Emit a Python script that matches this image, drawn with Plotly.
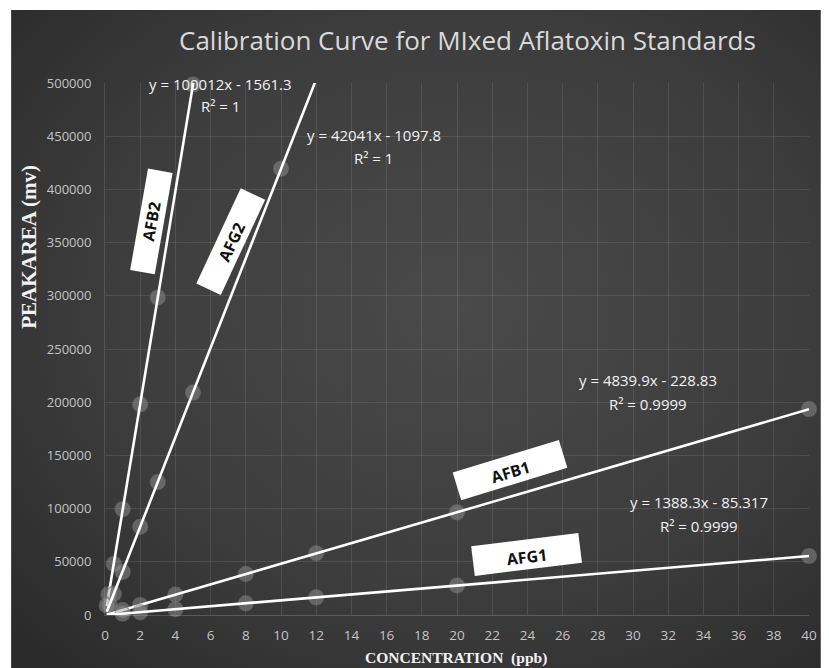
import base64
import plotly.graph_objects as go

# ---- calibration data (concentration in ppb, peak area in mV) ----
afb2_conc = [0.1, 0.2, 0.5, 1, 2, 3, 5]
afb2_area = [9000, 19500, 48000, 99500, 198000, 298500, 498500]

afg2_conc = [0.25, 0.5, 1, 2, 3, 5, 10]
afg2_area = [9500, 20000, 40500, 83000, 125000, 209000, 419500]

afb1_conc = [1, 2, 4, 8, 12, 20, 40]
afb1_area = [4700, 9500, 19300, 38500, 58000, 96500, 193500]

afg1_conc = [1, 2, 4, 8, 12, 20, 40]
afg1_area = [1300, 2700, 5500, 11000, 16600, 27700, 55400]

# linear fits: slope, intercept, R²
series_names = ["AFB2", "AFG2", "AFB1", "AFG1"]
fit_slope = [100012, 42041, 4839.9, 1388.3]
fit_intercept = [-1561.3, -1097.8, -228.83, -85.317]
fit_r2 = ["1", "1", "0.9999", "0.9999"]

x_ticks = list(range(0, 41, 2))
y_ticks = list(range(0, 500001, 50000))

# ---- figure geometry ----
W, H = 829, 668
ML, MR, MT, MB = 105, 12, 83, 53
PW, PH = W - ML - MR, H - MT - MB


def paper(xp, yp):
    """Pixel position on the page -> paper coordinates."""
    return (xp - ML) / PW, (H - MB - yp) / PH


def label(text, xp, yp, font, **kw):
    px_, py_ = paper(xp, yp)
    return dict(text=text, x=px_, y=py_, xref="paper", yref="paper",
                xanchor="center", yanchor="middle", showarrow=False,
                font=font, **kw)


fig = go.Figure()

concs = [afb2_conc, afg2_conc, afb1_conc, afg1_conc]
areas = [afb2_area, afg2_area, afb1_area, afg1_area]
x_lo = min(min(c) for c in concs)
x_hi = 40

for name, xs, ys, m, c in zip(series_names, concs, areas, fit_slope, fit_intercept):
    # data points
    fig.add_trace(go.Scatter(
        x=xs, y=ys, mode="markers", name=name, showlegend=False,
        marker=dict(size=15, color="rgba(155,155,155,0.45)",
                    line=dict(width=1.5, color="rgba(110,110,110,0.5)")),
        cliponaxis=False,
    ))
    # trendline from the fitted equation
    tx = [x_lo, x_hi]
    fig.add_trace(go.Scatter(
        x=tx, y=[m * v + c for v in tx], mode="lines", showlegend=False,
        line=dict(color="white", width=2.6), hoverinfo="skip",
    ))

annotations = []

# chart title
annotations.append(label(
    "Calibration Curve for MIxed Aflatoxin Standards", 472, 40,
    dict(family="Open Sans", size=26, color="#d9d9d9")))

# axis titles
annotations.append(label(
    "<b>PEAKAREA (mv)</b>", 28, 247,
    dict(family="Liberation Serif", size=21, color="#f2f2f2"), textangle=-90))
annotations.append(label(
    "<b>CONCENTRATION  (ppb)</b>", 460, 658,
    dict(family="Liberation Serif", size=15.5, color="#f2f2f2")))

# trendline equations
eq_font = dict(family="Open Sans", size=15, color="#f2f2f2")
eq_pos = [(222, 84, 106), (377, 135, 158), (654, 380, 404), (706, 502, 526)]
for m, c, r2, (cx, y1, y2) in zip(fit_slope, fit_intercept, fit_r2, eq_pos):
    sign = "-" if c < 0 else "+"
    eq = f"y = {m:g}x {sign} {abs(c):g}"
    annotations.append(label(eq, cx, y1, eq_font))
    annotations.append(label(f"R² = {r2}", cx, y2, eq_font))

# white name tags along the lines
tag_pos = [(152, 221, -80, 100, 22), (232, 242, -65, 102, 24),
           (515, 470, -17, 108, 26), (531, 554, -7, 105, 27)]
for name, (cx, cy, ang, w, h) in zip(series_names, tag_pos):
    annotations.append(label(
        f"<b>{name}</b>", cx, cy,
        dict(family="Open Sans", size=16, color="#111111"),
        textangle=ang, width=w, height=h, valign="bottom",
        bgcolor="white", borderpad=1))

# dark radial-gradient panel behind the chart
svg = (
    '<svg xmlns="http://www.w3.org/2000/svg" width="819" height="658" '
    'viewBox="0 0 819 658" preserveAspectRatio="none">'
    '<defs><radialGradient id="g" cx="0.55" cy="0.45" r="0.75">'
    '<stop offset="0" stop-color="#4a4a4a"/>'
    '<stop offset="0.6" stop-color="#3c3c3c"/>'
    '<stop offset="1" stop-color="#2a2a2a"/>'
    '</radialGradient></defs>'
    '<rect width="819" height="658" fill="url(#g)"/></svg>'
)
src = "data:image/svg+xml;base64," + base64.b64encode(svg.encode()).decode()
x0, y0 = paper(10, 10)
x1, y1 = paper(W, H)
images = [dict(source=src, xref="paper", yref="paper", x=x0, y=y0,
               sizex=x1 - x0, sizey=y0 - y1, xanchor="left", yanchor="top",
               sizing="stretch", layer="below")]

grid = "rgba(255,255,255,0.10)"
fig.update_layout(
    width=W, height=H,
    margin=dict(l=ML, r=MR, t=MT, b=MB),
    paper_bgcolor="white", plot_bgcolor="rgba(0,0,0,0)",
    annotations=annotations, images=images,
    xaxis=dict(range=[0, 40], tickvals=x_ticks, showgrid=True, gridcolor=grid,
               zeroline=False, showline=True, linecolor="rgba(255,255,255,0.18)",
               ticks="", ticklabelstandoff=8,
               tickfont=dict(family="Open Sans", size=13.5, color="#c4c4c4")),
    yaxis=dict(range=[0, 500000], tickvals=y_ticks, showgrid=True, gridcolor=grid,
               zeroline=False, showline=True, linecolor="rgba(255,255,255,0.12)",
               ticks="", ticklabelstandoff=10, tickformat="d",
               tickfont=dict(family="Open Sans", size=13, color="#c4c4c4")),
)

fig.write_html("out.html")
